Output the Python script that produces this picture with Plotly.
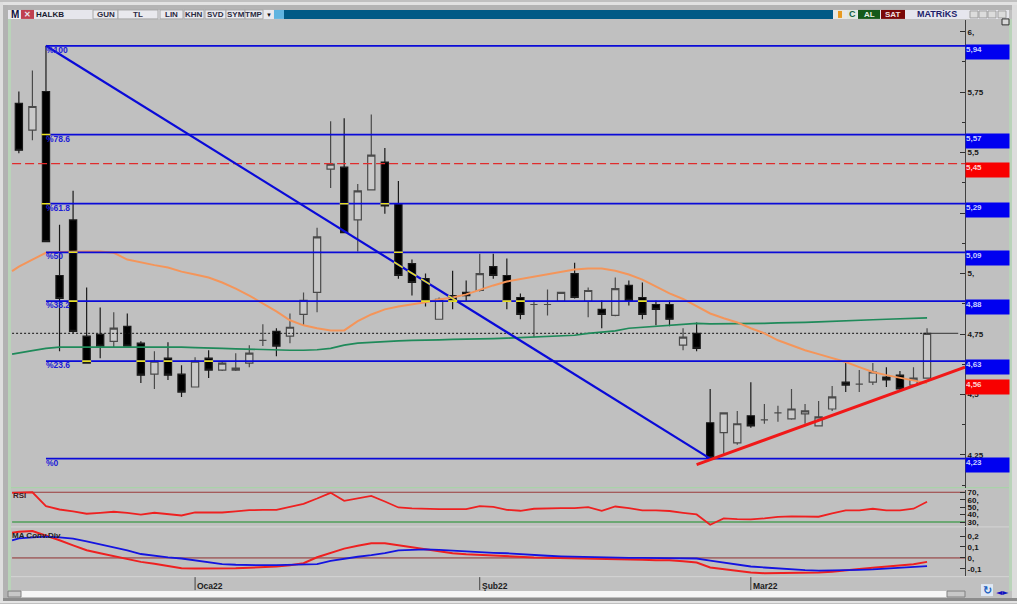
import plotly.graph_objects as go

W, H = 1017, 604
def px(x): return x / W
def py(y): return 1 - y / H

# ---- data ----
open_ = [5.704,5.593,5.753,4.992,5.222,4.741,4.749,4.720,4.782,4.712,4.584,4.650,4.584,4.531,4.650,4.601,4.601,4.630,4.724,4.761,4.741,4.831,4.922,5.432,5.440,5.222,5.346,5.461,5.288,5.041,4.979,4.811,4.909,4.922,4.930,5.029,4.992,4.901,4.872,4.872,4.885,5.000,4.885,4.852,4.827,4.951,4.901,4.872,4.872,4.704,4.753,4.383,4.342,4.300,4.412,4.395,4.424,4.399,4.420,4.370,4.440,4.551,4.543,4.551,4.572,4.580,4.539,4.568]
high_ = [5.753,5.840,5.942,5.202,5.342,4.942,4.860,4.840,4.835,4.720,4.679,4.716,4.621,4.654,4.683,4.634,4.671,4.704,4.790,4.774,4.835,4.922,5.189,5.630,5.642,5.370,5.658,5.519,5.383,5.058,5.000,4.901,5.012,4.971,5.082,5.082,5.062,4.918,4.889,4.934,4.922,5.045,4.942,4.889,4.984,4.971,4.963,4.889,4.889,4.774,4.798,4.523,4.424,4.432,4.551,4.461,4.453,4.523,4.461,4.473,4.535,4.630,4.601,4.630,4.613,4.597,4.613,4.774]
low_ = [5.498,5.551,5.132,4.679,4.753,4.630,4.650,4.695,4.700,4.547,4.523,4.560,4.490,4.531,4.568,4.597,4.597,4.613,4.700,4.658,4.712,4.786,4.840,5.354,5.169,5.091,5.346,5.247,4.979,4.909,4.864,4.811,4.852,4.885,4.926,4.979,4.852,4.811,4.737,4.827,4.885,4.897,4.819,4.774,4.823,4.868,4.811,4.786,4.782,4.683,4.679,4.235,4.255,4.292,4.362,4.379,4.387,4.395,4.379,4.370,4.432,4.510,4.510,4.539,4.531,4.519,4.539,4.568]
close_ = [5.510,5.691,5.132,4.897,4.761,4.630,4.700,4.774,4.700,4.580,4.638,4.580,4.510,4.638,4.601,4.630,4.609,4.671,4.724,4.700,4.778,4.889,5.152,5.453,5.169,5.342,5.490,5.280,4.992,4.963,4.885,4.893,4.885,4.909,5.000,4.992,4.885,4.831,4.872,4.872,4.922,4.901,4.930,4.831,4.938,4.889,4.831,4.852,4.811,4.737,4.691,4.239,4.424,4.379,4.370,4.395,4.424,4.440,4.432,4.407,4.490,4.539,4.543,4.593,4.560,4.523,4.568,4.753]

orange_ma = [5.010,5.029,5.058,5.086,5.089,5.091,5.091,5.091,5.086,5.058,5.045,5.035,5.025,5.008,4.996,4.984,4.963,4.938,4.909,4.877,4.844,4.807,4.786,4.774,4.765,4.765,4.803,4.831,4.852,4.864,4.872,4.881,4.893,4.901,4.914,4.934,4.951,4.967,4.977,4.988,5.000,5.008,5.017,5.021,5.021,5.012,4.996,4.975,4.947,4.918,4.895,4.864,4.835,4.815,4.798,4.774,4.753,4.724,4.704,4.683,4.667,4.650,4.634,4.613,4.593,4.580,4.568,4.556,4.547]
green_ma = [4.667,4.671,4.681,4.691,4.696,4.696,4.696,4.696,4.696,4.698,4.698,4.696,4.696,4.696,4.694,4.694,4.691,4.689,4.687,4.685,4.683,4.683,4.683,4.685,4.691,4.704,4.712,4.716,4.720,4.722,4.724,4.724,4.726,4.728,4.728,4.731,4.731,4.733,4.735,4.737,4.741,4.743,4.745,4.753,4.757,4.763,4.774,4.778,4.780,4.786,4.790,4.794,4.792,4.792,4.794,4.794,4.794,4.796,4.796,4.798,4.800,4.803,4.805,4.807,4.809,4.811,4.813,4.815,4.817]
rsi = [69.2,69.6,70,51.3,46.9,44.3,41.2,42.5,43.9,42.3,39.9,42.5,40.9,38.9,42.9,42.9,42.9,44.3,46,46.3,46.5,50.3,54.5,61.6,69.2,58.5,61.6,65.2,57.6,49.6,48.3,47.3,47.3,47.3,47.3,51.3,50.5,46.5,45.2,47.9,48.7,48.7,48.7,50,45.2,50.9,48.7,45.6,45.6,44.9,42.5,40.3,26.5,35,34,33.6,35,36.9,37.6,37.6,37.2,41.6,45.6,45.6,47.9,45.6,45.6,47.9,57.2]
macd = [0.231,0.238,0.245,0.206,0.161,0.115,0.070,0.043,0.018,-0.007,-0.036,-0.053,-0.073,-0.094,-0.096,-0.096,-0.096,-0.094,-0.089,-0.085,-0.078,-0.066,-0.048,0.006,0.043,0.085,0.111,0.134,0.134,0.115,0.095,0.079,0.061,0.043,0.034,0.027,0.025,0.018,0.011,0.004,0.002,0,-0.003,-0.003,-0.005,-0.012,-0.015,-0.016,-0.021,-0.021,-0.030,-0.042,-0.087,-0.103,-0.116,-0.133,-0.139,-0.139,-0.139,-0.139,-0.133,-0.127,-0.112,-0.100,-0.089,-0.078,-0.066,-0.057,-0.036]
macd_sig = [0.161,0.179,0.188,0.195,0.188,0.176,0.152,0.125,0.100,0.070,0.036,0.020,0.006,-0.005,-0.021,-0.039,-0.057,-0.062,-0.066,-0.066,-0.066,-0.065,-0.064,-0.057,-0.027,-0.007,0.011,0.025,0.043,0.070,0.076,0.079,0.073,0.065,0.058,0.054,0.047,0.043,0.034,0.025,0.020,0.015,0.011,0.006,0.004,0.002,0,0,-0.001,-0.003,-0.005,-0.005,-0.025,-0.044,-0.062,-0.078,-0.087,-0.096,-0.105,-0.112,-0.115,-0.115,-0.112,-0.109,-0.105,-0.098,-0.091,-0.085,-0.075]

fib_names = ["%100", "%78.6", "%61.8", "%50", "%38.2", "%23.6", "%0"]
fib_prices = [5.942, 5.575, 5.289, 5.088, 4.886, 4.638, 4.235]
fib_labels = ["5,94", "5,57", "5,29", "5,09", "4,88", "4,63", "4,23"]
diag_idx = [2, 51]
diag_price = [5.942, 4.235]
trend_idx = [50, 69.8]
trend_price = [4.210, 4.613]
red_level = 5.455
red_labels = {5.455: "5,45", 4.556: "4,56"}
last_level = 4.753

price_ticks = [6, 5.75, 5.5, 5.25, 5, 4.75, 4.5, 4.25]
price_ticktext = ["6,", "5,75", "5,5", "", "5,", "4,75", "4,5", "4,25"]
price_minor = [5.875, 5.625, 5.375, 5.125, 4.875, 4.625, 4.375, 4.125]
rsi_ticks = [70, 60, 50, 40, 30]
rsi_ticktext = ["70,", "60,", "50,", "40,", "30,"]
macd_ticks = [0.2, 0.1, 0, -0.1]
macd_ticktext = ["0,2", "0,1", "0,", "-0,1"]
month_idx = [13, 34, 54]
month_names = ["Oca22", "Şub22", "Mar22"]

idx = list(range(len(close_)))
line_idx = [-0.5] + idx
FONT = "Liberation Sans"
BG = "#c0c0c0"
BLUE = "#0a0ad8"

fig = go.Figure()
fig.add_trace(go.Candlestick(
    x=idx, open=open_, high=high_, low=low_, close=close_, whiskerwidth=0,
    increasing=dict(line=dict(color="#4a4a4a", width=1.2), fillcolor="#c9c9c9"),
    decreasing=dict(line=dict(color="#1a1a1a", width=1.2), fillcolor="#000000"),
    showlegend=False, hoverinfo="skip"))

lx0, lx1 = -0.5, 69.8
fig.add_trace(go.Scatter(x=[lx0, lx1], y=[red_level, red_level], mode="lines",
                         line=dict(color="#e02c2c", width=1.3, dash="9px,4px"), hoverinfo="skip"))
fig.add_trace(go.Scatter(x=[lx0, 67], y=[last_level, last_level], mode="lines",
                         line=dict(color="#111111", width=1, dash="2px,2px"), hoverinfo="skip"))
fig.add_trace(go.Scatter(x=[67, 69.3], y=[last_level, last_level], mode="lines",
                         line=dict(color="#333333", width=1), hoverinfo="skip"))
fig.add_trace(go.Scatter(x=line_idx, y=green_ma, mode="lines",
                         line=dict(color="#1f8a5a", width=1.7), hoverinfo="skip"))
fig.add_trace(go.Scatter(x=line_idx, y=orange_ma, mode="lines",
                         line=dict(color="#f4955a", width=2), hoverinfo="skip"))
for lvl in fib_prices:
    fig.add_trace(go.Scatter(x=[diag_idx[0], lx1], y=[lvl, lvl], mode="lines",
                             line=dict(color=BLUE, width=1.8), hoverinfo="skip"))
fig.add_trace(go.Scatter(x=diag_idx, y=diag_price, mode="lines",
                         line=dict(color=BLUE, width=2.2), hoverinfo="skip"))

# where the blue lines cross black bodies they turn yellow
yx, yy = [], []
slope = (diag_price[1] - diag_price[0]) / (diag_idx[1] - diag_idx[0])
for i in idx:
    if close_[i] >= open_[i]:
        continue
    for lvl in fib_prices:
        if close_[i] <= lvl <= open_[i] and i >= 2:
            yx += [i - 0.33, i + 0.33, None]
            yy += [lvl, lvl, None]
    if diag_idx[0] < i < diag_idx[1]:
        d0 = diag_price[0] + slope * (i - 0.33 - diag_idx[0])
        d1 = diag_price[0] + slope * (i + 0.33 - diag_idx[0])
        if close_[i] <= d1 and d0 <= open_[i]:
            yx += [i - 0.33, i + 0.33, None]
            yy += [d0, d1, None]
fig.add_trace(go.Scatter(x=yx, y=yy, mode="lines", line=dict(color="#e8e020", width=1.6), hoverinfo="skip"))
fig.add_trace(go.Scatter(x=trend_idx, y=trend_price, mode="lines",
                         line=dict(color="#f01818", width=3), hoverinfo="skip"))

# RSI panel
fig.add_trace(go.Scatter(x=[lx0, lx1], y=[70, 70], yaxis="y2", mode="lines",
                         line=dict(color="#9a3a3a", width=1), hoverinfo="skip"))
fig.add_trace(go.Scatter(x=[lx0, lx1], y=[30, 30], yaxis="y2", mode="lines",
                         line=dict(color="#4f9f5a", width=1.5), hoverinfo="skip"))
fig.add_trace(go.Scatter(x=line_idx, y=rsi, yaxis="y2", mode="lines",
                         line=dict(color="#ee2020", width=1.8), hoverinfo="skip"))
# MACD panel
fig.add_trace(go.Scatter(x=[lx0, lx1], y=[0, 0], yaxis="y3", mode="lines",
                         line=dict(color="#8f2f2f", width=1), hoverinfo="skip"))
fig.add_trace(go.Scatter(x=line_idx, y=macd, yaxis="y3", mode="lines",
                         line=dict(color="#ee2020", width=2), hoverinfo="skip"))
fig.add_trace(go.Scatter(x=line_idx, y=macd_sig, yaxis="y3", mode="lines",
                         line=dict(color="#1414e0", width=1.8), hoverinfo="skip"))

annotations, shapes = [], []
def rect(x0, y0, x1, y1, fill, line=None):
    shapes.append(dict(type="rect", xref="paper", yref="paper", x0=px(x0), x1=px(x1), y0=py(y1), y1=py(y0),
                       fillcolor=fill, line=dict(width=1 if line else 0, color=line or fill), layer="above"))
def hline(x0, x1, y, color, width=1):
    shapes.append(dict(type="line", xref="paper", yref="paper", x0=px(x0), x1=px(x1), y0=py(y), y1=py(y),
                       line=dict(color=color, width=width), layer="below"))
def text(x, y, s, color="#111111", size=9, bold=True, anchor="left", family=FONT):
    annotations.append(dict(xref="paper", yref="paper", x=px(x), y=py(y), text=f"<b>{s}</b>" if bold else s,
                            showarrow=False, xanchor=anchor, yanchor="middle",
                            font=dict(family=family, size=size, color=color), borderpad=0, borderwidth=0))

# frame
rect(0, 0, W, 3, "#e2e2e2"); rect(0, 3, W, 8, "#b4b4b4")
rect(0, 0, 3, H, "#dedede"); rect(3, 3, 8, H, "#b2b2b2")
rect(8, 17, 11, 592, "#b9d3b9")
rect(1009, 17, 1012, 592, "#b9d3b9"); rect(1012, 3, W, H, "#dcdcdc")
rect(3, 599, W, 602, "#8c8c8c"); rect(0, 602, W, H, "#e4e4e4")
hline(8, 1009, 488, "#a9d2a9", 1.4)
hline(8, 1009, 527.5, "#d4d4d4", 1)
hline(8, 1009, 577.5, "#d4d4d4", 1)

# toolbar
rect(8, 8, 1009, 17, "#e6e6ec")
rect(284, 8, 833, 17, "#005a86")
for x0, x1, s in [(93, 118, "GUN"), (118, 158, "TL"), (160, 183, "LIN"), (184, 204, "KHN"),
                  (205, 226, "SVD"), (226, 245, "SYM"), (245, 263, "TMP")]:
    rect(x0, 8, x1, 17, "#e9e9ee", "#a8a8a8")
    text((x0 + x1) / 2, 12.5, s, color="#2a2a40", size=8, anchor="center")
rect(11, 8, 20, 17, "#f4f4f4"); text(15, 12.5, "M", color="#101040", size=10, anchor="center")
rect(21, 8, 34, 17, "#c04050"); text(27.5, 12.5, "✕", color="#e8e8f0", size=8, anchor="center")
text(36, 12.5, "HALKB", color="#1a1a30", size=8)
rect(264, 8, 273, 17, "#e9e9ee"); text(268.5, 13, "▼", color="#101010", size=6, anchor="center")
rect(274, 8, 284, 17, "#60b4e0")
rect(834, 8, 845, 17, "#e8e8e0"); rect(838, 9, 842, 16, "#e89a20")
rect(847, 8, 857, 17, "#dfe8e0"); text(852, 12.5, "C", color="#106040", size=9, anchor="center")
rect(858, 8, 880, 17, "#155a1a"); text(869, 12.5, "AL", color="#e8f0e8", size=8, anchor="center")
rect(881, 8, 905, 17, "#7a0808"); text(893, 12.5, "SAT", color="#f0e0e0", size=8, anchor="center")
rect(906, 8, 967, 17, "#e6e6ee"); text(937, 12.5, "MATRiKS", color="#1c1c6a", size=9, anchor="center")
for x0 in (970, 979, 988, 998):
    rect(x0, 9, x0 + 8, 16, "#dcdcdc", "#a0a0a0")
rect(1002, 17, 1009, 23, "#d8d8d8", "#303030")

# price boxes
for name, lvl, lab in zip(fib_names, fib_prices, fib_labels):
    annotations.append(dict(xref="x", yref="y", x=1.85, y=lvl, yshift=3, text=f"<b>{name}</b>", showarrow=False,
                            xanchor="left", yanchor="top", font=dict(family=FONT, size=8.5, color="#2020d8")))
    annotations.append(dict(xref="paper", yref="y", x=px(965), y=lvl, yshift=2, text=f"<b>{lab}</b>", showarrow=False,
                            xanchor="left", yanchor="top", align="left", valign="top", width=43, height=14, bgcolor="#0000f0",
                            font=dict(family=FONT, size=8, color="#c8d0ff"), borderpad=0))
for lvl, lab in red_labels.items():
    annotations.append(dict(xref="paper", yref="y", x=px(965), y=lvl, yshift=2, text=f"<b>{lab}</b>", showarrow=False,
                            xanchor="left", yanchor="top", align="left", valign="top", width=43, height=14, bgcolor="#f80000",
                            font=dict(family=FONT, size=8, color="#ffd0d0"), borderpad=0))

text(13, 496, "RSI", color="#402020", size=8)
text(12, 536, "MA Conv.Div", color="#202020", size=8)

for i, name in zip(month_idx, month_names):
    shapes.append(dict(type="line", xref="x", yref="paper", x0=i, x1=i, y0=py(591), y1=py(578),
                       line=dict(color="#444444", width=1), layer="above"))
    annotations.append(dict(xref="x", yref="paper", x=i, y=py(587), xshift=0, text=f"<b>{name}</b>", showarrow=False,
                            xanchor="left", yanchor="middle", font=dict(family=FONT, size=8.5, color="#202020")))

# scroll bar and icons
rect(21, 592, 965, 598, "#f6f6f6")
rect(8, 592, 21, 598, "#c8c8c8", "#808080")
rect(947, 592, 965, 598, "#c8c8c8", "#808080")
rect(981, 585, 993, 597, "#dfe8f4")
text(987, 591, "↻", color="#1a5fc0", size=11, anchor="center", family="DejaVu Sans")
text(1002, 593, "◄►", color="#1010c0", size=8, anchor="center", family="DejaVu Sans")

axis_common = dict(side="right", anchor="x", showgrid=False, zeroline=False, showline=True, linecolor="#404040", linewidth=1,
                   ticks="inside", ticklen=5, tickcolor="#303030", tickwidth=1,
                   tickfont=dict(family=FONT, size=8, color="#161616", weight=700), fixedrange=True)
fig.update_layout(
    width=W, height=H, margin=dict(l=0, r=0, t=0, b=0), showlegend=False, boxgap=0.24,
    paper_bgcolor=BG, plot_bgcolor="rgba(0,0,0,0)",
    xaxis=dict(domain=[px(11), px(965)], range=[lx0 - 0.08, lx1], visible=False, rangeslider=dict(visible=False)),
    yaxis=dict(domain=[py(488), py(18)], range=[4.115, 6.049], tickvals=price_ticks, ticktext=price_ticktext,
               minor=dict(tickvals=price_minor, ticks="inside", ticklen=3, tickcolor="#303030"), **axis_common),
    yaxis2=dict(domain=[py(527), py(490)], range=[24.27, 73.6], tickvals=rsi_ticks, ticktext=rsi_ticktext, **axis_common),
    yaxis3=dict(domain=[py(577), py(528)], range=[-0.166, 0.279], tickvals=macd_ticks, ticktext=macd_ticktext, **axis_common),
    shapes=shapes, annotations=annotations)
fig.write_html("out.html", config={"displayModeBar": False},
               post_script="document.body.style.margin='0';document.body.style.overflow='hidden';")
